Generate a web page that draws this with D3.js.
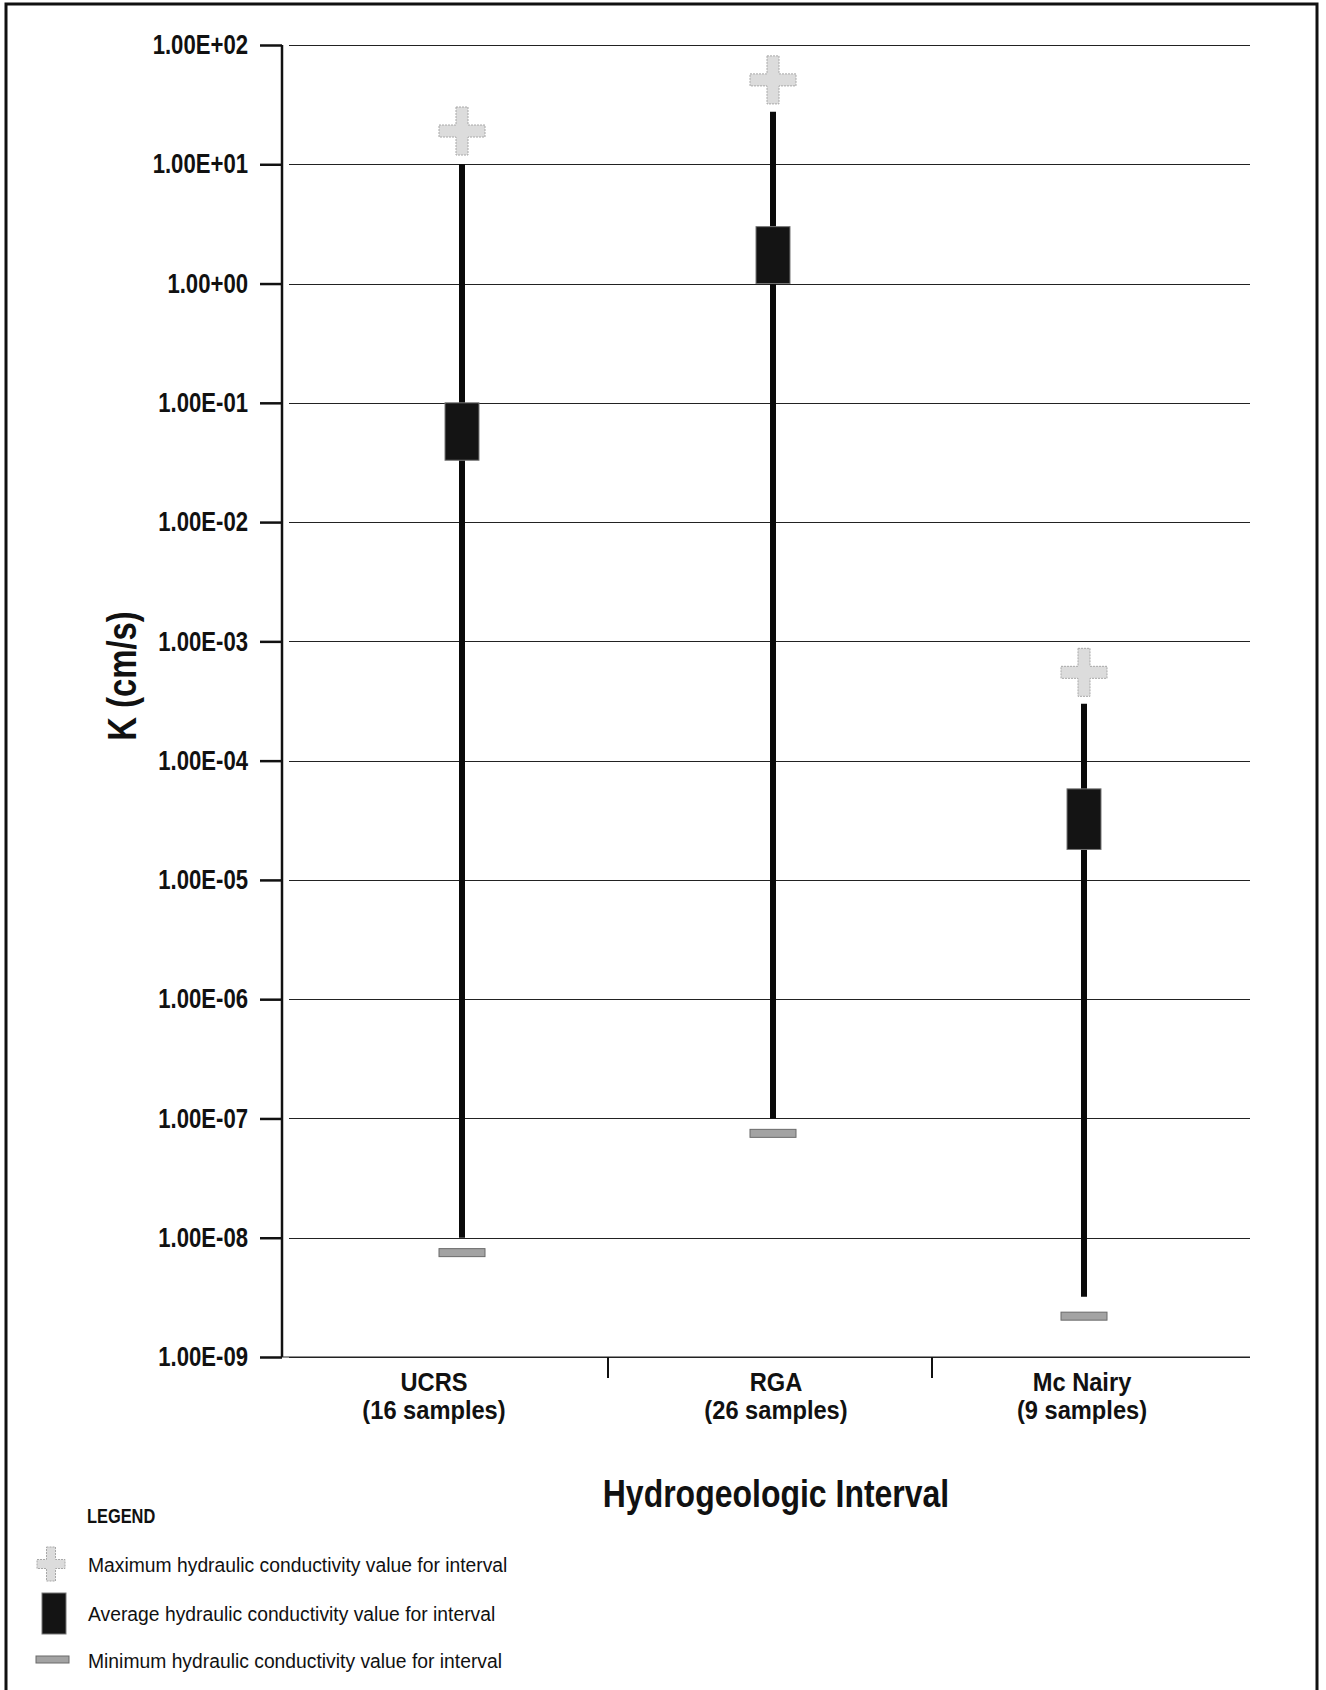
<!DOCTYPE html>
<html><head><meta charset="utf-8">
<script src="https://cdn.jsdelivr.net/npm/d3@7"></script>
<style>html,body{margin:0;padding:0;background:#fff;}svg{display:block;}</style>
</head><body>
<svg id="chart" width="1326" height="1690"></svg>
<script>
// ---- data ----
const categories = ["UCRS", "RGA", "Mc Nairy"];
const sampleLabels = ["(16 samples)", "(26 samples)", "(9 samples)"];
const maxValues = [19, 51, 5.5e-4];          // grey cross (maximum)
const whiskerTop = [10, 27.5, 3.0e-4];       // top of black range line
const avgHigh = [0.1, 3.0, 5.8e-5];          // top of average box
const avgLow = [0.033, 1.0, 1.8e-5];         // bottom of average box
const whiskerBottom = [1e-8, 1e-7, 3.2e-9];  // bottom of black range line
const minValues = [7.5e-9, 7.5e-8, 2.2e-9];  // grey bar (minimum)
const yTickValues = [1e2, 1e1, 1e0, 1e-1, 1e-2, 1e-3, 1e-4, 1e-5, 1e-6, 1e-7, 1e-8, 1e-9];
const yTickLabels = ["1.00E+02", "1.00E+01", "1.00+00", "1.00E-01", "1.00E-02", "1.00E-03",
                     "1.00E-04", "1.00E-05", "1.00E-06", "1.00E-07", "1.00E-08", "1.00E-09"];
const legendLabels = ["Maximum hydraulic conductivity value for interval",
                      "Average hydraulic conductivity value for interval",
                      "Minimum hydraulic conductivity value for interval"];

const rows = categories.map((c, i) => ({
  cat: c, samples: sampleLabels[i], max: maxValues[i], wTop: whiskerTop[i],
  aHi: avgHigh[i], aLo: avgLow[i], wBot: whiskerBottom[i], min: minValues[i]
}));

const FONT = "'Liberation Sans Narrow','Arial Narrow','Liberation Sans',Arial,sans-serif";
const svg = d3.select("#chart");

// helper: condensed text (horizontal squeeze)
function ctext(sel, x, y, s, rot) {
  sel.attr("x", 0).attr("y", 0)
     .attr("transform", `translate(${x},${y})` + (rot ? ` rotate(${rot})` : "") + ` scale(${s},1)`);
  return sel;
}

// frame
svg.append("rect").attr("x", 6).attr("y", 4).attr("width", 1311).attr("height", 1720)
  .attr("fill", "none").attr("stroke", "#111").attr("stroke-width", 3);

const axisX = 282, plotRight = 1250, plotTop = 45, plotBottom = 1357;
const y = d3.scaleLog().domain([1e-9, 1e2]).range([plotBottom, plotTop]);
const x = d3.scalePoint().domain(categories).range([462, 1084]);
const xLabel = d3.scaleOrdinal().domain(categories).range([434, 776, 1082]);

// gridlines
svg.append("g").selectAll("line").data(yTickValues).join("line")
  .attr("x1", axisX + 7).attr("x2", plotRight)
  .attr("y1", d => Math.round(y(d)) + 0.5).attr("y2", d => Math.round(y(d)) + 0.5)
  .attr("stroke", "#222").attr("stroke-width", 1.2);

// y axis
const tickScale = 0.82;
const yAxis = d3.axisLeft(y).tickValues(yTickValues)
  .tickFormat((d, i) => yTickLabels[i]).tickSize(22).tickPadding(12);
const gy = svg.append("g").attr("transform", `translate(${axisX},0)`).call(yAxis);
gy.select(".domain").attr("stroke", "#111").attr("stroke-width", 2.5).attr("d", `M0,${plotTop}V${plotBottom}`);
gy.selectAll(".tick line").attr("stroke", "#111").attr("stroke-width", 2.5);
gy.selectAll(".tick text").attr("font-family", FONT).attr("font-weight", "bold")
  .attr("font-size", 27).attr("fill", "#111")
  .attr("x", -34 / tickScale).attr("transform", `scale(${tickScale},1)`);

// x baseline
svg.append("line").attr("x1", axisX).attr("x2", plotRight).attr("y1", plotBottom).attr("y2", plotBottom)
  .attr("stroke", "#222").attr("stroke-width", 1.2);

// category separator ticks (midpoints between labels)
const seps = categories.slice(1).map((c, i) => (xLabel(categories[i]) + xLabel(c)) / 2 + 3);
svg.append("g").selectAll("line").data(seps).join("line")
  .attr("x1", d => d).attr("x2", d => d).attr("y1", plotBottom).attr("y2", plotBottom + 21)
  .attr("stroke", "#111").attr("stroke-width", 2);

// category labels
const catG = svg.append("g").attr("font-family", FONT).attr("font-weight", "bold")
  .attr("font-size", 26).attr("fill", "#111").attr("text-anchor", "middle");
catG.selectAll("text.c").data(rows).join("text").attr("class", "c").text(d => d.cat)
  .each(function(d) { ctext(d3.select(this), xLabel(d.cat), 1391, 0.91); });
catG.selectAll("text.s").data(rows).join("text").attr("class", "s").text(d => d.samples)
  .each(function(d) { ctext(d3.select(this), xLabel(d.cat), 1419, 0.91); });

// axis titles
ctext(svg.append("text"), 776, 1507, 0.82).attr("text-anchor", "middle")
  .attr("font-family", FONT).attr("font-weight", "bold").attr("font-size", 39)
  .attr("fill", "#111").text("Hydrogeologic Interval");
ctext(svg.append("text"), 136, 676, 0.8, -90).attr("text-anchor", "middle")
  .attr("font-family", FONT).attr("font-weight", "bold").attr("font-size", 41)
  .attr("fill", "#111").text("K (cm/s)");

// cross path generator
function crossPath(cx, cy, w, h, t) {
  const hw = w / 2, hh = h / 2, ht = t / 2;
  return `M${cx - ht},${cy - hh}H${cx + ht}V${cy - ht}H${cx + hw}V${cy + ht}H${cx + ht}V${cy + hh}` +
         `H${cx - ht}V${cy + ht}H${cx - hw}V${cy - ht}H${cx - ht}Z`;
}

const marks = svg.append("g");
// whiskers
marks.selectAll("line.w").data(rows).join("line").attr("class", "w")
  .attr("x1", d => x(d.cat)).attr("x2", d => x(d.cat))
  .attr("y1", d => y(d.wTop)).attr("y2", d => y(d.wBot))
  .attr("stroke", "#0a0a0a").attr("stroke-width", 6);
// average boxes
marks.selectAll("rect.a").data(rows).join("rect").attr("class", "a")
  .attr("x", d => x(d.cat) - 17).attr("width", 34)
  .attr("y", d => y(d.aHi)).attr("height", d => y(d.aLo) - y(d.aHi))
  .attr("fill", "#141414").attr("stroke", "#777").attr("stroke-width", 1);
// min bars
marks.selectAll("rect.m").data(rows).join("rect").attr("class", "m")
  .attr("x", d => x(d.cat) - 23).attr("width", 46)
  .attr("y", d => y(d.min) - 4).attr("height", 8)
  .attr("fill", "#a3a3a3").attr("stroke", "#6a6a6a").attr("stroke-width", 1);
// max crosses
marks.selectAll("path.x").data(rows).join("path").attr("class", "x")
  .attr("d", d => crossPath(x(d.cat), y(d.max), 46, 48, 12))
  .attr("fill", "#dcdcdc").attr("stroke", "#a8a8a8").attr("stroke-width", 1)
  .attr("stroke-dasharray", "2,1");

// legend
const lg = svg.append("g");
ctext(lg.append("text"), 87, 1523, 0.82).attr("font-family", FONT)
  .attr("font-weight", "bold").attr("font-size", 20).attr("fill", "#111").text("LEGEND");
const legY = [1564, 1613, 1660];
lg.append("path").attr("d", crossPath(51, legY[0], 28, 34, 9))
  .attr("fill", "#dcdcdc").attr("stroke", "#a8a8a8").attr("stroke-dasharray", "2,1");
lg.append("rect").attr("x", 42).attr("y", legY[1] - 20).attr("width", 24).attr("height", 41)
  .attr("fill", "#141414").attr("stroke", "#777");
lg.append("rect").attr("x", 36).attr("y", legY[2] - 4).attr("width", 33).attr("height", 7)
  .attr("fill", "#a3a3a3").attr("stroke", "#6a6a6a");
lg.selectAll("text.l").data(legendLabels).join("text").attr("class", "l")
  .attr("dy", "0.36em").attr("font-family", FONT).attr("font-size", 21).attr("fill", "#111").text(d => d)
  .each(function(d, i) { ctext(d3.select(this), 88, legY[i], 0.92); });
</script>
</body></html>
